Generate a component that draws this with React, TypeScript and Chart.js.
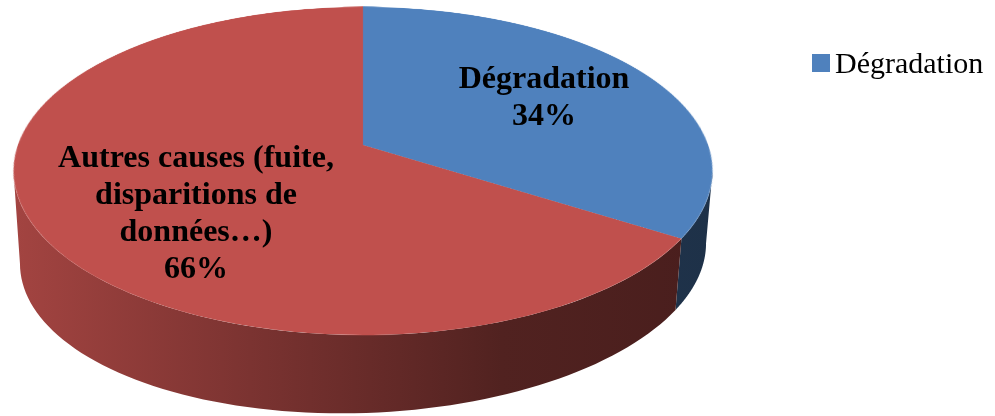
import { useEffect, useRef } from "react";
import { Chart, registerables } from "chart.js";

Chart.register(...registerables);

// Slice names (multi-line where the label wraps), values in percent, colours
const categories: (string | string[])[] = [
  "Dégradation",
  ["Autres causes (fuite,", "disparitions de", "données…)"],
];
const values = [34, 66];
const sliceColors = ["#4f81bd", "#c0504d"];
// Only the first entry is listed in the legend
const legendIndexes = [0];

type Proj = { cx: number; cy: number; ax: number; by: number; p: number; skew?: number };

// Perspective mapping of a unit disc (u right, w toward the viewer) onto the canvas
const project = (pr: Proj, u: number, w: number) => {
  const d = 1 - pr.p * w;
  return { x: pr.cx + (pr.ax * u) / d, y: pr.cy + (pr.by * w + (pr.skew || 0) * u) / d };
};

const hexToRgb = (hex: string) => {
  const n = parseInt(hex.slice(1), 16);
  return [(n >> 16) & 255, (n >> 8) & 255, n & 255];
};
const shade = (hex: string, f: number) => {
  const [r, g, b] = hexToRgb(hex);
  return `rgb(${Math.round(r * f)},${Math.round(g * f)},${Math.round(b * f)})`;
};

const pie3dPlugin = {
  id: "pie3d",
  beforeDatasetsDraw(chart: any, _args: any, opts: any) {
    const ctx: CanvasRenderingContext2D = chart.ctx;
    const meta = chart.getDatasetMeta(0);
    const arcs: any[] = meta.data;
    if (!arcs.length) return false;
    const top: Proj = opts.top;
    const bottom: Proj = opts.bottom;
    const colors: string[] = chart.data.datasets[0].backgroundColor;

    // --- side wall of the cylinder, only the part facing the viewer ---
    const tangent = Math.asin(top.p);
    const visMin = tangent;
    const visMax = Math.PI - tangent;
    const grad = (base: string) => {
      const g = ctx.createLinearGradient(opts.sideFrom, 0, opts.sideTo, 0);
      for (const [t, f] of opts.sideStops) g.addColorStop(t, shade(base, f));
      return g;
    };
    arcs.forEach((arc, i) => {
      for (const k of [-1, 0, 1]) {
        const s = arc.startAngle + k * 2 * Math.PI;
        const e = arc.endAngle + k * 2 * Math.PI;
        const a0 = Math.max(s, visMin);
        const a1 = Math.min(e, visMax);
        if (a1 <= a0) continue;
        const steps = 80;
        ctx.save();
        ctx.beginPath();
        for (let j = 0; j <= steps; j++) {
          const a = a0 + ((a1 - a0) * j) / steps;
          const pt = project(top, Math.cos(a), Math.sin(a));
          if (j === 0) ctx.moveTo(pt.x, pt.y);
          else ctx.lineTo(pt.x, pt.y);
        }
        for (let j = steps; j >= 0; j--) {
          const a = a0 + ((a1 - a0) * j) / steps;
          const pt = project(bottom, Math.cos(a), Math.sin(a));
          ctx.lineTo(pt.x, pt.y);
        }
        ctx.closePath();
        ctx.fillStyle = grad(colors[i]);
        ctx.fill();
        ctx.restore();
      }
    });

    // --- top face: the library draws the slices flat, then rows are laid into perspective ---
    const R0 = arcs[0].outerRadius;
    const f = 2;
    const m = 4;
    const C = (R0 + m) * f;
    const size = Math.ceil(2 * C);
    const off = document.createElement("canvas");
    off.width = size;
    off.height = size;
    const octx = off.getContext("2d") as CanvasRenderingContext2D;
    octx.scale(f, f);
    octx.translate(R0 + m - arcs[0].x, R0 + m - arcs[0].y);
    arcs.forEach((arc) => arc.draw(octx));

    const wOf = (y: number) => {
      const d = (y - top.cy) / top.by;
      return d / (1 + top.p * d);
    };
    const yTop = Math.floor(top.cy - top.by / (1 + top.p)) - 1;
    const yBot = Math.ceil(top.cy + top.by / (1 - top.p)) + 1;
    ctx.save();
    ctx.imageSmoothingEnabled = true;
    (ctx as any).imageSmoothingQuality = "high";
    for (let yi = yTop; yi <= yBot; yi++) {
      let w0 = wOf(yi);
      let w1 = wOf(yi + 1);
      if (w0 >= 1 || w1 <= -1) continue;
      w0 = Math.max(-1, w0);
      w1 = Math.min(1, w1);
      const wm = Math.max(-1, Math.min(1, wOf(yi + 0.5)));
      const sy0 = C + w0 * R0 * f;
      const sy1 = C + w1 * R0 * f;
      const k = top.ax / (1 - top.p * wm) / (R0 * f);
      const dx = top.cx - C * k;
      ctx.drawImage(off, 0, sy0, size, Math.max(sy1 - sy0, 0.5), dx, yi, size * k, 1);
    }
    ctx.restore();
    return false;
  },
  afterDraw(chart: any, _args: any, opts: any) {
    const ctx: CanvasRenderingContext2D = chart.ctx;
    const data: number[] = chart.data.datasets[0].data;
    const colors: string[] = chart.data.datasets[0].backgroundColor;
    const total = data.reduce((a, b) => a + b, 0);

    // data labels: category text and share
    ctx.save();
    ctx.fillStyle = "#000";
    ctx.font = opts.labelFont;
    ctx.textAlign = "center";
    ctx.textBaseline = "alphabetic";
    data.forEach((v, i) => {
      const lbl = chart.data.labels[i];
      const lines = (Array.isArray(lbl) ? lbl : [lbl]).concat(`${Math.round((v / total) * 100)}%`);
      const anchor = opts.labelAnchors[i];
      lines.forEach((t: string, j: number) => {
        ctx.fillText(t, anchor.x, anchor.y + j * opts.labelLineHeight);
      });
    });
    ctx.restore();

    // legend
    ctx.save();
    ctx.font = opts.legendFont;
    ctx.textAlign = "left";
    ctx.textBaseline = "alphabetic";
    legendIndexes.forEach((idx, j) => {
      const y = opts.legend.y + j * opts.legend.rowHeight;
      ctx.fillStyle = colors[idx];
      ctx.fillRect(opts.legend.x, y, opts.legend.box, opts.legend.box);
      ctx.fillStyle = "#000";
      const lbl = chart.data.labels[idx];
      ctx.fillText(Array.isArray(lbl) ? lbl.join(" ") : lbl, opts.legend.textX, y + opts.legend.baseline);
    });
    ctx.restore();
  },
};

export default function App() {
  const ref = useRef<HTMLCanvasElement>(null);

  useEffect(() => {
    if (!ref.current) return;
    const chart = new Chart(ref.current, {
      type: "pie",
      data: {
        labels: categories as any,
        datasets: [
          {
            data: values,
            backgroundColor: sliceColors,
            borderWidth: 0,
          },
        ],
      },
      options: {
        responsive: false,
        animation: false,
        devicePixelRatio: 1,
        events: [],
        layout: { padding: 0 },
        plugins: {
          legend: { display: false },
          tooltip: { enabled: false },
          pie3d: {
            top: { cx: 363, cy: 145, ax: 345.1, by: 159.9, p: 0.1585 },
            bottom: { cx: 363, cy: 228.1, ax: 338.7, by: 155.6, p: 0.1585, skew: -10 },
            sideFrom: 13,
            sideTo: 712,
            sideStops: [
              [0, 0.85],
              [0.34, 0.64],
              [0.7, 0.42],
              [1, 0.38],
            ],
            labelFont: "bold 32px 'Liberation Serif', 'Times New Roman', serif",
            labelLineHeight: 37,
            labelAnchors: [
              { x: 544, y: 88 },
              { x: 196, y: 167 },
            ],
            legendFont: "30px 'Liberation Serif', 'Times New Roman', serif",
            legend: { x: 812, y: 54, box: 18, textX: 835, baseline: 19, rowHeight: 36 },
          },
        } as any,
      },
      plugins: [pie3dPlugin],
    });
    return () => chart.destroy();
  }, []);

  return (
    <div style={{ position: "fixed", left: 0, top: 0, width: 995, height: 416, background: "#fff" }}>
      <canvas ref={ref} width={995} height={416} style={{ display: "block" }} />
    </div>
  );
}
